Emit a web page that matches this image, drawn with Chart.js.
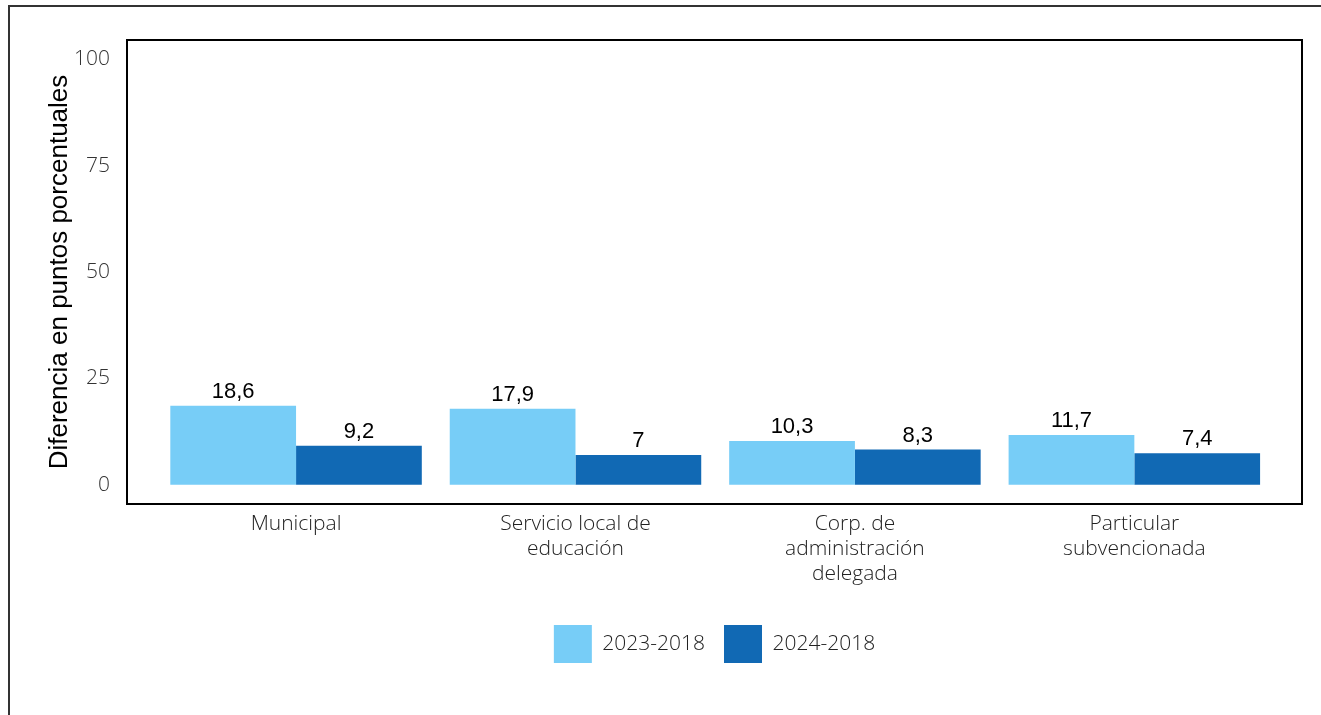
<!DOCTYPE html>
<html>
<head>
<meta charset="utf-8">
<script src="https://cdn.jsdelivr.net/npm/chart.js@4/dist/chart.umd.min.js"></script>
<style>
  html,body{margin:0;padding:0;background:#fff;}
  #wrap{position:relative;width:1321px;height:715px;overflow:hidden;}
  #frame{position:absolute;left:8px;top:5px;width:1400px;height:800px;border-left:2px solid #333;border-top:2px solid #333;}
  canvas{position:absolute;left:0;top:0;}
</style>
</head>
<body>
<div id="wrap">
<div id="frame"></div>
<canvas id="c" width="1321" height="715"></canvas>
</div>
<script>
const categories = [["Municipal"], ["Servicio local de", "educación"], ["Corp. de", "administración", "delegada"], ["Particular", "subvencionada"]];
const seriesNames = ["2023-2018", "2024-2018"];
const values2023 = [18.6, 17.9, 10.3, 11.7];
const values2024 = [9.2, 7, 8.3, 7.4];
const yTicks = [0, 25, 50, 75, 100];

const lightFont = {family: "'Open Sans', 'Noto Sans', sans-serif", weight: 300};

const framePlugin = {
  id: 'frame',
  afterDatasetsDraw(chart) {
    const {ctx, chartArea: a} = chart;
    ctx.save();
    ctx.strokeStyle = '#000';
    ctx.lineWidth = 2;
    ctx.strokeRect(a.left, a.top, a.right - a.left, a.bottom - a.top);
    ctx.restore();
  }
};

const valueLabels = {
  id: 'valueLabels',
  afterDatasetsDraw(chart) {
    const {ctx} = chart;
    ctx.save();
    ctx.font = "22px 'Liberation Sans', Arial, sans-serif";
    ctx.fillStyle = '#000';
    ctx.textAlign = 'center';
    ctx.textBaseline = 'alphabetic';
    chart.data.datasets.forEach((ds, di) => {
      chart.getDatasetMeta(di).data.forEach((bar, i) => {
        const v = ds.data[i].y;
        ctx.fillText(String(v).replace('.', ','), bar.x, bar.y - 8);
      });
    });
    ctx.restore();
  }
};

new Chart(document.getElementById('c'), {
  type: 'bar',
  data: {
    datasets: [
      {label: seriesNames[0], data: values2023.map((v, i) => ({x: i, y: v})), backgroundColor: '#77CDF7', borderWidth: 0},
      {label: seriesNames[1], data: values2024.map((v, i) => ({x: i, y: v})), backgroundColor: '#1169B4', borderWidth: 0}
    ]
  },
  options: {
    responsive: false,
    animation: false,
    devicePixelRatio: 1,
    layout: {padding: {left: 0, top: 40, right: 19, bottom: 42}},
    datasets: {bar: {categoryPercentage: 0.9, barPercentage: 1.0}},
    scales: {
      x: {
        type: 'linear',
        offset: false,
        min: -0.605,
        max: 3.6,
        grid: {display: false, offset: false},
        border: {display: true, color: '#000', width: 2},
        afterBuildTicks(scale) { scale.ticks = categories.map((c, i) => ({value: i})); },
        afterFit(scale) { scale.height = 102; },
        ticks: {
          padding: -1,
          color: '#222',
          font: {...lightFont, size: 21},
          maxRotation: 0,
          autoSkip: false,
          callback: (v) => categories[v]
        }
      },
      y: {
        min: -4.5,
        max: 104.5,
        grid: {display: false},
        border: {display: true, color: '#000', width: 2},
        afterBuildTicks(scale) { scale.ticks = yTicks.map(v => ({value: v})); },
        afterFit(scale) { scale.width = 127; },
        ticks: {
          padding: 9,
          color: '#333',
          font: {...lightFont, size: 21}
        },
        title: {
          display: true,
          text: 'Diferencia en puntos porcentuales',
          color: '#000',
          font: {family: "'Liberation Sans', Arial, sans-serif", size: 26},
          padding: {top: 44, bottom: 0}
        }
      }
    },
    plugins: {
      legend: {
        position: 'bottom',
        fullSize: false,
        labels: {
          boxWidth: 38,
          boxHeight: 38,
          padding: 19,
          color: '#222',
          font: {...lightFont, size: 21}
        }
      },
      tooltip: {enabled: false}
    }
  },
  plugins: [framePlugin, valueLabels]
});
</script>
</body>
</html>
